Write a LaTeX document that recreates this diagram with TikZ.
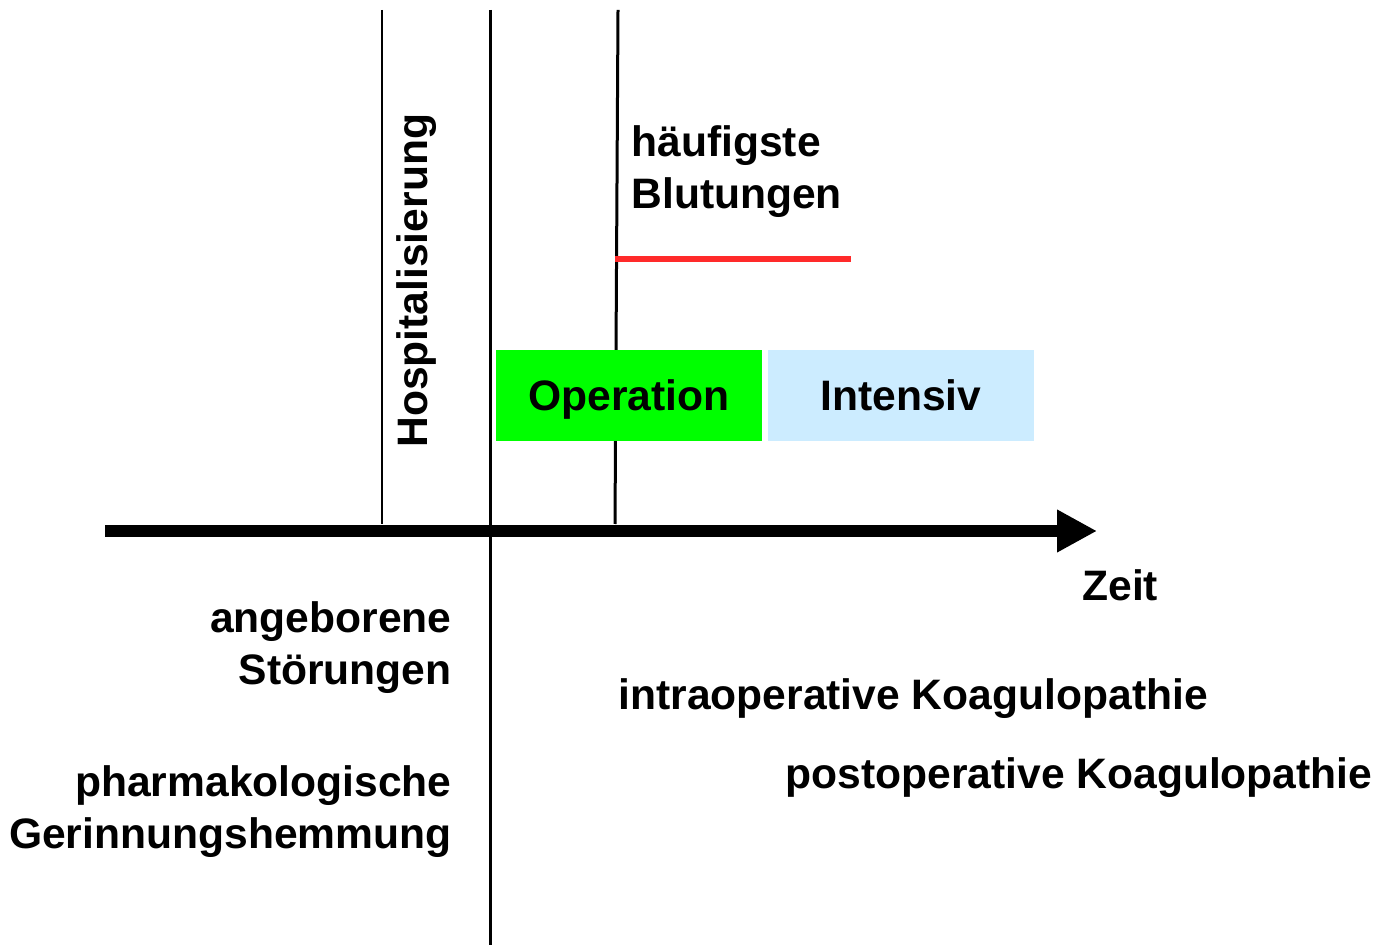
\documentclass[tikz,border=0pt]{standalone}
\usepackage{fontspec}
\setmainfont{Liberation Sans}
\usetikzlibrary{arrows.meta}
\usetikzlibrary{positioning}

\definecolor{opgreen}{RGB}{0,255,0}
\definecolor{icublue}{RGB}{204,236,255}
\definecolor{bleedred}{RGB}{255,42,42}

\tikzset{
  lbl/.style={font=\fontsize{21.3}{26}\selectfont\bfseries, inner sep=0pt},
  phasebox/.style={lbl, minimum width=133pt, minimum height=45.5pt,
    text height=15.3pt, text depth=0pt},
  marker/.style={line width=1.5pt},
}

\begin{document}
\begin{tikzpicture}[x=0.5pt,y=-0.5pt]
\useasboundingbox (0,0) rectangle (1379,945);
% Zeitachse
\coordinate (tstart) at (105,531);
\coordinate (tend) at (1097,531);
\draw[line width=6pt,-{Triangle[length=20pt,width=20pt]}] (tstart) -- (tend);
\node[lbl, anchor=base west] (zeit) at (1082,600) {Zeit};
% senkrechte Linien
\draw[line width=1pt] (382,10) -- (382,524);
\draw[marker] (490,10) -- (490,945);
\draw[marker] (618,10) -- (615,524);
\node[lbl, rotate=90, anchor=base west] (hosp) at (427,448) {Hospitalisierung};
% Blutungen
\node[lbl, anchor=base west, align=left] (bleed) at (631,209) {h\"aufigste\\Blutungen};
\draw[bleedred, line width=3pt] (615,259) -- (851,259);
% Phasen
\node[phasebox, fill=opgreen] (op) at (629,395.5) {Operation};
\node[phasebox, fill=icublue] (icu) at (901,395.5) {Intensiv};
% Ursachen
\node[lbl, anchor=base east, align=right] (congen) at (452,684) {angeborene\\St\"orungen};
\node[lbl, anchor=base east, align=right] (pharma) at (452,848) {pharmakologische\\Gerinnungshemmung};
\node[lbl, anchor=base west] (intraop) at (618,709) {intraoperative Koagulopathie};
\node[lbl, anchor=base west] (postop) at (785,788) {postoperative Koagulopathie};
\end{tikzpicture}
\end{document}
